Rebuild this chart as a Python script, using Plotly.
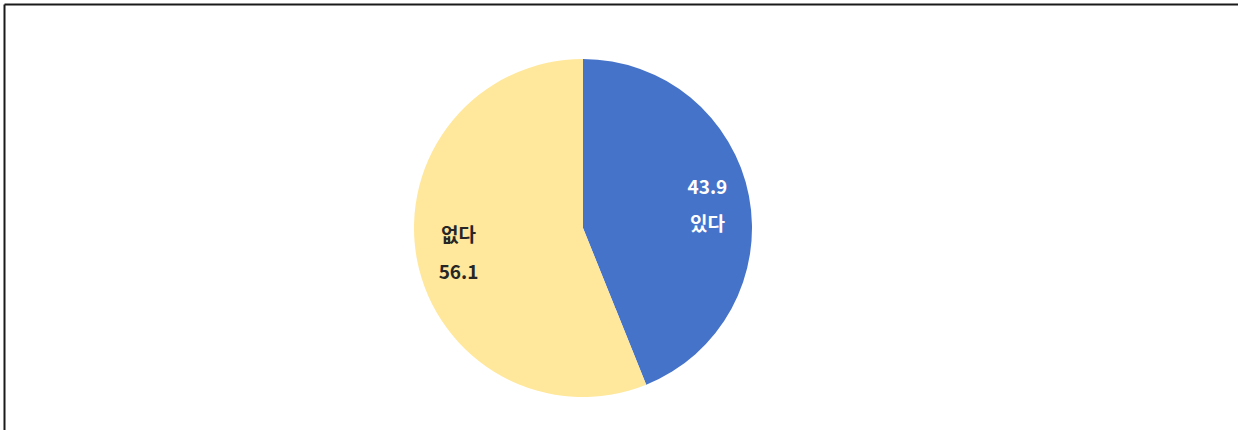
import plotly.graph_objects as go

# 응답 비율 (%)
labels = ["있다", "없다"]
values = [43.9, 56.1]
colors = ["#4673CA", "#FFE89C"]
text_colors = ["#FFFFFF", "#262626"]

# each label keeps its own line order, as in the original chart
fs = "font-size:19px"
templates = [
    f"<span style='{fs}'>%{{value}}</span><br><span style='{fs}'>%{{label}}</span>",
    f"<span style='{fs}'>%{{label}}</span><br><span style='{fs}'>%{{value}}</span>",
]

W, H = 1238, 430
cx, cy, R = 583, 228, 169
HOLE = 0.5
r_in = R * HOLE + 2  # inner filler pie, slightly larger than the hole

# outer ring carries the labels (text sits mid-ring, like the original)
ring = go.Pie(
    labels=labels,
    values=values,
    sort=False,
    direction="clockwise",
    rotation=0,
    hole=HOLE,
    marker=dict(colors=colors, line=dict(width=0)),
    texttemplate=templates,
    textposition="inside",
    insidetextorientation="horizontal",
    textfont=dict(family="Noto Sans CJK KR", size=28, color=text_colors, weight="bold"),
    hoverinfo="label+value",
    showlegend=False,
    domain=dict(x=[(cx - R) / W, (cx + R) / W], y=[1 - (cy + R) / H, 1 - (cy - R) / H]),
)

# inner pie fills the hole so the whole thing reads as a plain pie
core = go.Pie(
    labels=labels,
    values=values,
    sort=False,
    direction="clockwise",
    rotation=0,
    marker=dict(colors=colors, line=dict(width=0)),
    textinfo="none",
    hoverinfo="label+value",
    showlegend=False,
    domain=dict(x=[(cx - r_in) / W, (cx + r_in) / W], y=[1 - (cy + r_in) / H, 1 - (cy - r_in) / H]),
)

fig = go.Figure([ring, core])

fig.update_layout(
    width=W,
    height=H,
    margin=dict(l=0, r=0, t=0, b=0),
    paper_bgcolor="white",
    font=dict(family="Noto Sans CJK KR"),
)

# frame lines: left and top edges only
fig.add_shape(type="line", xref="paper", yref="paper",
              x0=4.5 / W, x1=4.5 / W, y0=0, y1=1 - 4.5 / H,
              line=dict(color="#1a1a1a", width=2))
fig.add_shape(type="line", xref="paper", yref="paper",
              x0=4.5 / W, x1=1, y0=1 - 4.5 / H, y1=1 - 4.5 / H,
              line=dict(color="#1a1a1a", width=2))

fig.write_html("out.html", config={"displayModeBar": False},
               post_script="document.body.style.margin='0';")
